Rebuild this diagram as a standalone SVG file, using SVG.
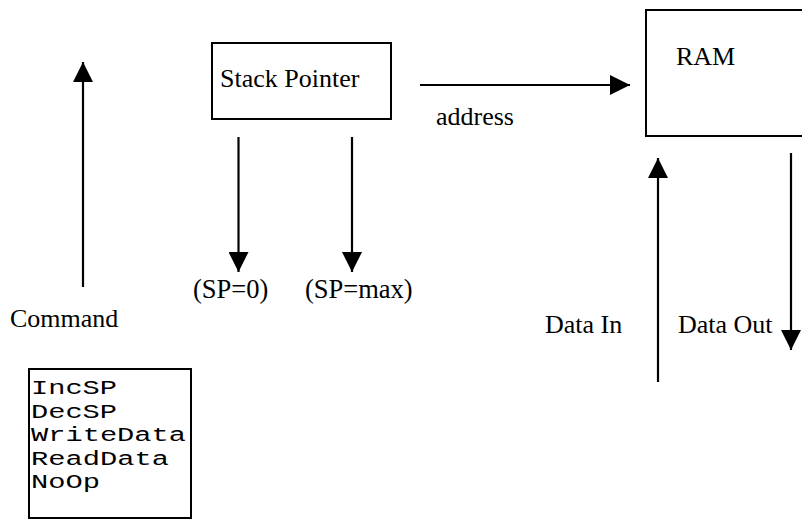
<svg xmlns="http://www.w3.org/2000/svg" width="802" height="521" viewBox="0 0 802 521">
  <style>
    .box { fill: #fff; stroke: #000; stroke-width: 2; }
    .wire { fill: none; stroke: #000; stroke-width: 2.2; marker-end: url(#head); }
    .lbl { font-family: "Liberation Serif", "Times New Roman", serif; font-size: 26px; fill: #000; }
    .cond { font-size: 26.5px; }
    .code { font-family: "Liberation Mono", "Courier New", monospace; font-size: 20px; fill: #000; }
  </style>
  <defs>
    <marker id="head" markerUnits="userSpaceOnUse" markerWidth="20" markerHeight="20" refX="20" refY="10" orient="auto">
      <path d="M0,0 L20,10 L0,20 Z" fill="#000"/>
    </marker>
  </defs>
  <rect width="802" height="521" fill="#fff"/>

  <g id="connectors">
    <line class="wire" x1="83" y1="287" x2="83" y2="62"/>
    <line class="wire" x1="420" y1="85" x2="630" y2="85"/>
    <line class="wire" x1="238.5" y1="137" x2="238.5" y2="272"/>
    <line class="wire" x1="352" y1="137" x2="352" y2="272"/>
    <line class="wire" x1="658" y1="382" x2="658" y2="158"/>
    <line class="wire" x1="791" y1="153" x2="791" y2="350"/>
  </g>

  <g id="stack-pointer">
    <rect class="box" x="212" y="43" width="179" height="76"/>
    <text class="lbl" x="220" y="87">Stack Pointer</text>
  </g>

  <g id="ram">
    <rect class="box" x="646" y="10" width="170" height="126"/>
    <text class="lbl" x="676" y="65">RAM</text>
  </g>

  <!-- command list: monospace lines stretched to a 17.2px character pitch -->
  <g id="commands">
    <rect class="box" x="29" y="369" width="162" height="149"/>
    <text class="code" x="31" y="394" textLength="86" lengthAdjust="spacingAndGlyphs">IncSP</text>
    <text class="code" x="31" y="417.5" textLength="86" lengthAdjust="spacingAndGlyphs">DecSP</text>
    <text class="code" x="31" y="441" textLength="155" lengthAdjust="spacingAndGlyphs">WriteData</text>
    <text class="code" x="31" y="464.5" textLength="138" lengthAdjust="spacingAndGlyphs">ReadData</text>
    <text class="code" x="31" y="488" textLength="69" lengthAdjust="spacingAndGlyphs">NoOp</text>
  </g>

  <g id="labels">
    <text class="lbl" x="436" y="125">address</text>
    <text class="lbl" x="10" y="327">Command</text>
    <text class="lbl cond" x="193" y="298">(SP=0)</text>
    <text class="lbl cond" x="305" y="298">(SP=max)</text>
    <text class="lbl" x="545" y="333">Data In</text>
    <text class="lbl" x="678" y="333">Data Out</text>
  </g>
</svg>
